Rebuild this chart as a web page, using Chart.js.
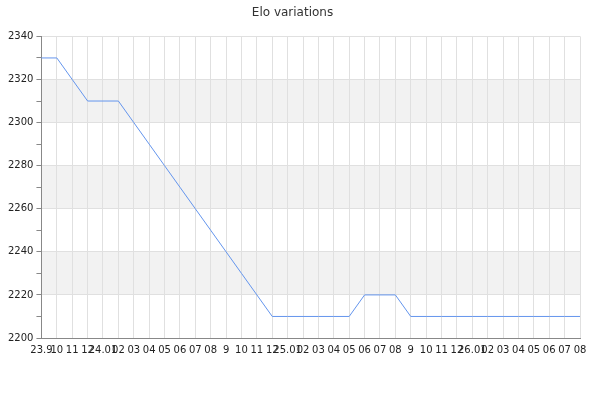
<!DOCTYPE html>
<html>
<head>
<meta charset="utf-8">
<script src="https://cdn.jsdelivr.net/npm/chart.js@4/dist/chart.umd.min.js"></script>
<style>
  html, body { margin: 0; padding: 0; background: #fff; }
  #wrap { width: 600px; height: 400px; }
</style>
</head>
<body>
<div id="wrap"><canvas id="elo"></canvas></div>
<script>
// month labels, year prefix at each new year
const months = [
  '23.9', '10', '11', '12',
  '24.01', '02', '03', '04', '05', '06', '07', '08', '9', '10', '11', '12',
  '25.01', '02', '03', '04', '05', '06', '07', '08', '9', '10', '11', '12',
  '26.01', '02', '03', '04', '05', '06', '07', '08'
];

// elo rating
const elo = [
  2330, 2330, 2320, 2310, 2310, 2310, 2300, 2290, 2280, 2270,
  2260, 2250, 2240, 2230, 2220, 2210, 2210, 2210, 2210, 2210,
  2210, 2220, 2220, 2220, 2210, 2210, 2210, 2210, 2210, 2210,
  2210, 2210, 2210, 2210, 2210, 2210
];

const yTicks = [2200, 2220, 2240, 2260, 2280, 2300, 2320, 2340];

// grey stripes between every other pair of major y ticks
const stripes = {
  id: 'stripes',
  beforeDraw(chart) {
    const { ctx, chartArea, scales } = chart;
    const y = scales.y;
    ctx.save();
    ctx.fillStyle = '#f2f2f2';
    for (let i = 1; i < yTicks.length - 1; i += 2) {
      const top = y.getPixelForValue(yTicks[i + 1]);
      const bottom = y.getPixelForValue(yTicks[i]);
      ctx.fillRect(chartArea.left, top, chartArea.right - chartArea.left, bottom - top);
    }
    ctx.restore();
  }
};

Chart.defaults.font.family = '"DejaVu Sans", sans-serif';
Chart.defaults.font.size = 10;
Chart.defaults.color = '#333';

new Chart(document.getElementById('elo'), {
  type: 'line',
  data: {
    labels: months,
    datasets: [{
      label: 'Elo',
      data: elo,
      borderColor: 'rgb(100, 149, 237)',
      borderWidth: 1,
      pointRadius: 0,
      tension: 0,
      fill: false
    }]
  },
  options: {
    responsive: true,
    maintainAspectRatio: false,
    animation: false,
    layout: { padding: { left: 5, right: 20, bottom: 38 } },
    plugins: {
      legend: { display: false },
      tooltip: { enabled: false },
      title: {
        display: true,
        text: 'Elo variations',
        color: '#333',
        font: { size: 12, weight: 'normal' },
        padding: { top: 6, bottom: 16 }
      }
    },
    scales: {
      x: {
        offset: false,
        grid: { color: '#e0e0e0', drawTicks: false },
        border: { color: '#888' },
        ticks: { autoSkip: false, maxRotation: 0, minRotation: 0, padding: 6, color: '#222' }
      },
      y: {
        min: 2200,
        max: 2340,
        grid: {
          color: ctx => (ctx.tick && ctx.tick.value % 20 !== 0) ? 'rgba(0,0,0,0)' : '#e0e0e0',
          tickColor: '#888',
          tickLength: 5
        },
        border: { color: '#888' },
        ticks: {
          stepSize: 10,
          padding: 3,
          color: '#222',
          callback: v => (v % 20 === 0 ? v : '')
        }
      }
    }
  },
  plugins: [stripes]
});
</script>
</body>
</html>
